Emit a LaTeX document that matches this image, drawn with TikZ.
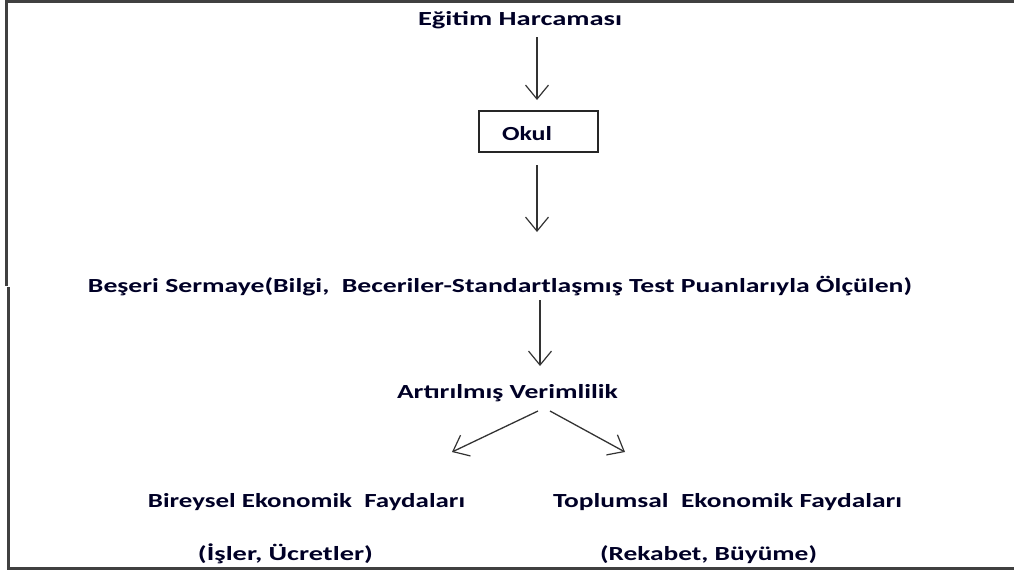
\documentclass[tikz,border=0pt]{standalone}
\usepackage{fontspec}
\setmainfont{Carlito}
\usetikzlibrary{arrows.meta}
\newcommand{\fitw}[2]{\resizebox{#1pt}{\height}{#2}}
\begin{document}
\begin{tikzpicture}[x=1pt,y=-1pt,
  lbl/.style={anchor=base, inner sep=0pt, font=\bfseries\fontsize{20}{23}\selectfont, text=black!85!blue},
  arr/.style={draw=black!80, line width=1.3pt, -{Straight Barb[length=14pt,width=23pt,line width=1.2pt]}},
  frame/.style={draw=black!75, line width=2.2pt},
  boxst/.style={draw=black!85, line width=1.5pt, minimum width=119pt, minimum height=41pt, inner sep=0pt}]
\useasboundingbox (0,0) rectangle (1014,574);
% frame
\coordinate (f1) at (1014,1.5);
\coordinate (f2) at (6.5,1.5);
\coordinate (f3) at (6.5,286);
\coordinate (f4) at (8.5,287);
\coordinate (f5) at (8.5,568.5);
\coordinate (f6) at (1014,568.5);
\draw[frame] (f1) -- (f2) -- (f3);
\draw[frame] (f4) -- (f5) -- (f6);
% texts
\node[lbl] (egitim) at (520,25) {\fitw{204}{Eğitim Harcaması}};
\node[boxst] (okul) at (538.5,131.5) {};
\node[lbl] (okult) at (527,140) {\fitw{50}{Okul}};
\node[lbl] (beseri) at (500,292) {\fitw{824}{Beşeri Sermaye(Bilgi,\ \ Beceriler-Standartlaşmış Test Puanlarıyla Ölçülen)}};
\node[lbl] (artir) at (507.5,398) {\fitw{221}{Artırılmış Verimlilik}};
\node[lbl] (birey) at (306.5,507) {\fitw{317}{Bireysel Ekonomik\ \ Faydaları}};
\node[lbl] (isler) at (285.5,560) {\fitw{175}{(İşler, Ücretler)}};
\node[lbl] (toplum) at (727.5,507) {\fitw{349}{Toplumsal\ \ Ekonomik Faydaları}};
\node[lbl] (rekabet) at (708.5,560) {\fitw{217}{(Rekabet, Büyüme)}};
% arrows
\coordinate (a1s) at (537,37);
\coordinate (a1e) at (537,100);
\coordinate (a2s) at (537,165);
\coordinate (a2e) at (537,232);
\coordinate (a3s) at (540,300);
\coordinate (a3e) at (540,366);
\coordinate (a4s) at (538,411);
\coordinate (a4e) at (452,452);
\coordinate (a5s) at (550,411);
\coordinate (a5e) at (625,452);
\draw[arr] (a1s) -- (a1e);
\draw[arr] (a2s) -- (a2e);
\draw[arr] (a3s) -- (a3e);
\draw[arr] (a4s) -- (a4e);
\draw[arr] (a5s) -- (a5e);
\end{tikzpicture}
\end{document}
